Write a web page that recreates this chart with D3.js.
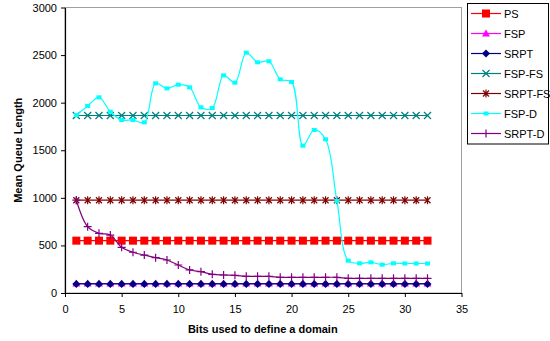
<!DOCTYPE html>
<html>
<head>
<meta charset="utf-8">
<script src="https://cdn.jsdelivr.net/npm/d3@7"></script>
<style>
  html, body { margin: 0; padding: 0; background: #fff; }
  svg { display: block; font-family: Arial, "Liberation Sans", sans-serif; }
</style>
</head>
<body>
<svg id="chart" width="550" height="341"></svg>
<script>
// Bits used to define a domain (x values)
const bits = d3.range(1, 33);

// Mean queue length for each scheduling policy
const psValues     = bits.map(() => 550);
const fspValues    = bits.map(() => 100);
const srptValues   = bits.map(() => 95);
const fspFsValues  = bits.map(() => 1865);
const srptFsValues = bits.map(() => 975);
const fspDValues   = [1870, 1965, 2056, 1905, 1818, 1818, 1793, 2203, 2150, 2189, 2161, 1951, 1944, 2287, 2210, 2525,
                      2424, 2435, 2245, 2217, 1548, 1713, 1615, 967, 340, 312, 322, 298, 312, 310, 310, 310];
const srptDValues  = [975, 697, 627, 609, 480, 428, 399, 371, 347, 294, 242, 224, 196, 189, 186, 175,
                      175, 175, 165, 165, 165, 165, 165, 165, 154, 154, 154, 154, 154, 154, 154, 154];

const xTicks = [0, 5, 10, 15, 20, 25, 30, 35];
const yTicks = [0, 500, 1000, 1500, 2000, 2500, 3000];

const seriesNames = ["PS", "FSP", "SRPT", "FSP-FS", "SRPT-FS", "FSP-D", "SRPT-D"];

const series = [
  { name: "PS",      values: psValues,     color: "#FF0000", marker: "square",   smooth: false },
  { name: "FSP",     values: fspValues,    color: "#FF00FF", marker: "triangle", smooth: false },
  { name: "SRPT",    values: srptValues,   color: "#000080", marker: "diamond",  smooth: false },
  { name: "FSP-FS",  values: fspFsValues,  color: "#008080", marker: "x",        smooth: false },
  { name: "SRPT-FS", values: srptFsValues, color: "#800000", marker: "star",     smooth: false },
  { name: "FSP-D",   values: fspDValues,   color: "#00FFFF", marker: "smallsq",  smooth: true },
  { name: "SRPT-D",  values: srptDValues,  color: "#800080", marker: "plus",     smooth: true }
];

const svg = d3.select("#chart");
const plot = { left: 65, right: 461.5, top: 7.5, bottom: 293 };

const x = d3.scaleLinear().domain([0, 35]).range([plot.left, plot.right]);
const y = d3.scaleLinear().domain([0, 3000]).range([plot.bottom, plot.top]);

// plot frame (grey top/right edges)
svg.append("rect")
  .attr("x", plot.left).attr("y", plot.top)
  .attr("width", plot.right - plot.left).attr("height", plot.bottom - plot.top)
  .attr("fill", "#fff").attr("stroke", "#a0a0a0").attr("stroke-width", 1);

// axes
const xAxis = svg.append("g")
  .attr("transform", `translate(0,${plot.bottom})`)
  .call(d3.axisBottom(x).tickValues(xTicks).tickFormat(d3.format("d")).tickSize(4).tickSizeOuter(0).tickPadding(8));
const yAxis = svg.append("g")
  .attr("transform", `translate(${plot.left},0)`)
  .call(d3.axisLeft(y).tickValues(yTicks).tickFormat(d3.format("d")).tickSize(4).tickSizeOuter(0).tickPadding(4));
[xAxis, yAxis].forEach(g => {
  g.selectAll("path.domain").attr("stroke", "#000").attr("stroke-width", 1.2);
  g.selectAll(".tick line").attr("stroke", "#000");
  g.selectAll(".tick text").attr("font-size", 11).attr("fill", "#000")
    .attr("font-family", "Arial, 'Liberation Sans', sans-serif");
});

// axis titles
svg.append("text")
  .attr("x", (plot.left + plot.right) / 2 - 0.5).attr("y", 333)
  .attr("text-anchor", "middle").attr("font-size", 11).attr("font-weight", "bold")
  .text("Bits used to define a domain");
svg.append("text")
  .attr("transform", `translate(22,${(plot.top + plot.bottom) / 2}) rotate(-90)`)
  .attr("text-anchor", "middle").attr("font-size", 11).attr("font-weight", "bold")
  .text("Mean Queue Length");

// marker drawing
function drawMarker(g, type, color, cx, cy) {
  switch (type) {
    case "square":
      g.append("rect").attr("x", cx - 4).attr("y", cy - 4).attr("width", 8).attr("height", 8).attr("fill", color);
      break;
    case "smallsq":
      g.append("rect").attr("x", cx - 2.5).attr("y", cy - 2).attr("width", 5).attr("height", 4).attr("fill", color);
      break;
    case "triangle":
      g.append("path").attr("d", `M${cx},${cy - 4}L${cx + 4},${cy + 3}L${cx - 4},${cy + 3}Z`).attr("fill", color);
      break;
    case "diamond":
      g.append("path").attr("d", `M${cx},${cy - 4}L${cx + 4},${cy}L${cx},${cy + 4}L${cx - 4},${cy}Z`).attr("fill", color);
      break;
    case "x":
      g.append("path").attr("d", `M${cx - 3.5},${cy - 3.5}L${cx + 3.5},${cy + 3.5}M${cx - 3.5},${cy + 3.5}L${cx + 3.5},${cy - 3.5}`)
        .attr("stroke", color).attr("stroke-width", 1.2);
      break;
    case "star":
      g.append("path").attr("d", `M${cx - 3},${cy - 3}L${cx + 3},${cy + 3}M${cx - 3},${cy + 3}L${cx + 3},${cy - 3}M${cx},${cy - 4}L${cx},${cy + 4}`)
        .attr("stroke", color).attr("stroke-width", 1.2);
      break;
    case "plus":
      g.append("path").attr("d", `M${cx - 4},${cy}L${cx + 4},${cy}M${cx},${cy - 4}L${cx},${cy + 4}`)
        .attr("stroke", color).attr("stroke-width", 1.2);
      break;
  }
}

// series lines and markers
const lineStraight = d3.line().x((d, i) => x(bits[i])).y(d => y(d));
const lineSmooth = d3.line().x((d, i) => x(bits[i])).y(d => y(d)).curve(d3.curveCatmullRom.alpha(0.5));

series.forEach(s => {
  const g = svg.append("g").attr("class", "series");
  g.append("path")
    .attr("d", (s.smooth ? lineSmooth : lineStraight)(s.values))
    .attr("fill", "none").attr("stroke", s.color).attr("stroke-width", 1.2);
  s.values.forEach((v, i) => drawMarker(g, s.marker, s.color, x(bits[i]), y(v)));
});

// legend
const legend = svg.append("g");
legend.append("rect")
  .attr("x", 467.5).attr("y", 3.5).attr("width", 81).attr("height", 140.5)
  .attr("fill", "#fff").attr("stroke", "#000").attr("stroke-width", 1);
seriesNames.forEach((name, i) => {
  const s = series.find(d => d.name === name);
  const ly = 13.5 + i * 20;
  legend.append("line")
    .attr("x1", 471).attr("x2", 501).attr("y1", ly).attr("y2", ly)
    .attr("stroke", s.color).attr("stroke-width", 1.2);
  drawMarker(legend, s.marker, s.color, 486, ly);
  legend.append("text")
    .attr("x", 504).attr("y", ly + 4).attr("font-size", 11).attr("fill", "#000")
    .text(name);
});
</script>
</body>
</html>
